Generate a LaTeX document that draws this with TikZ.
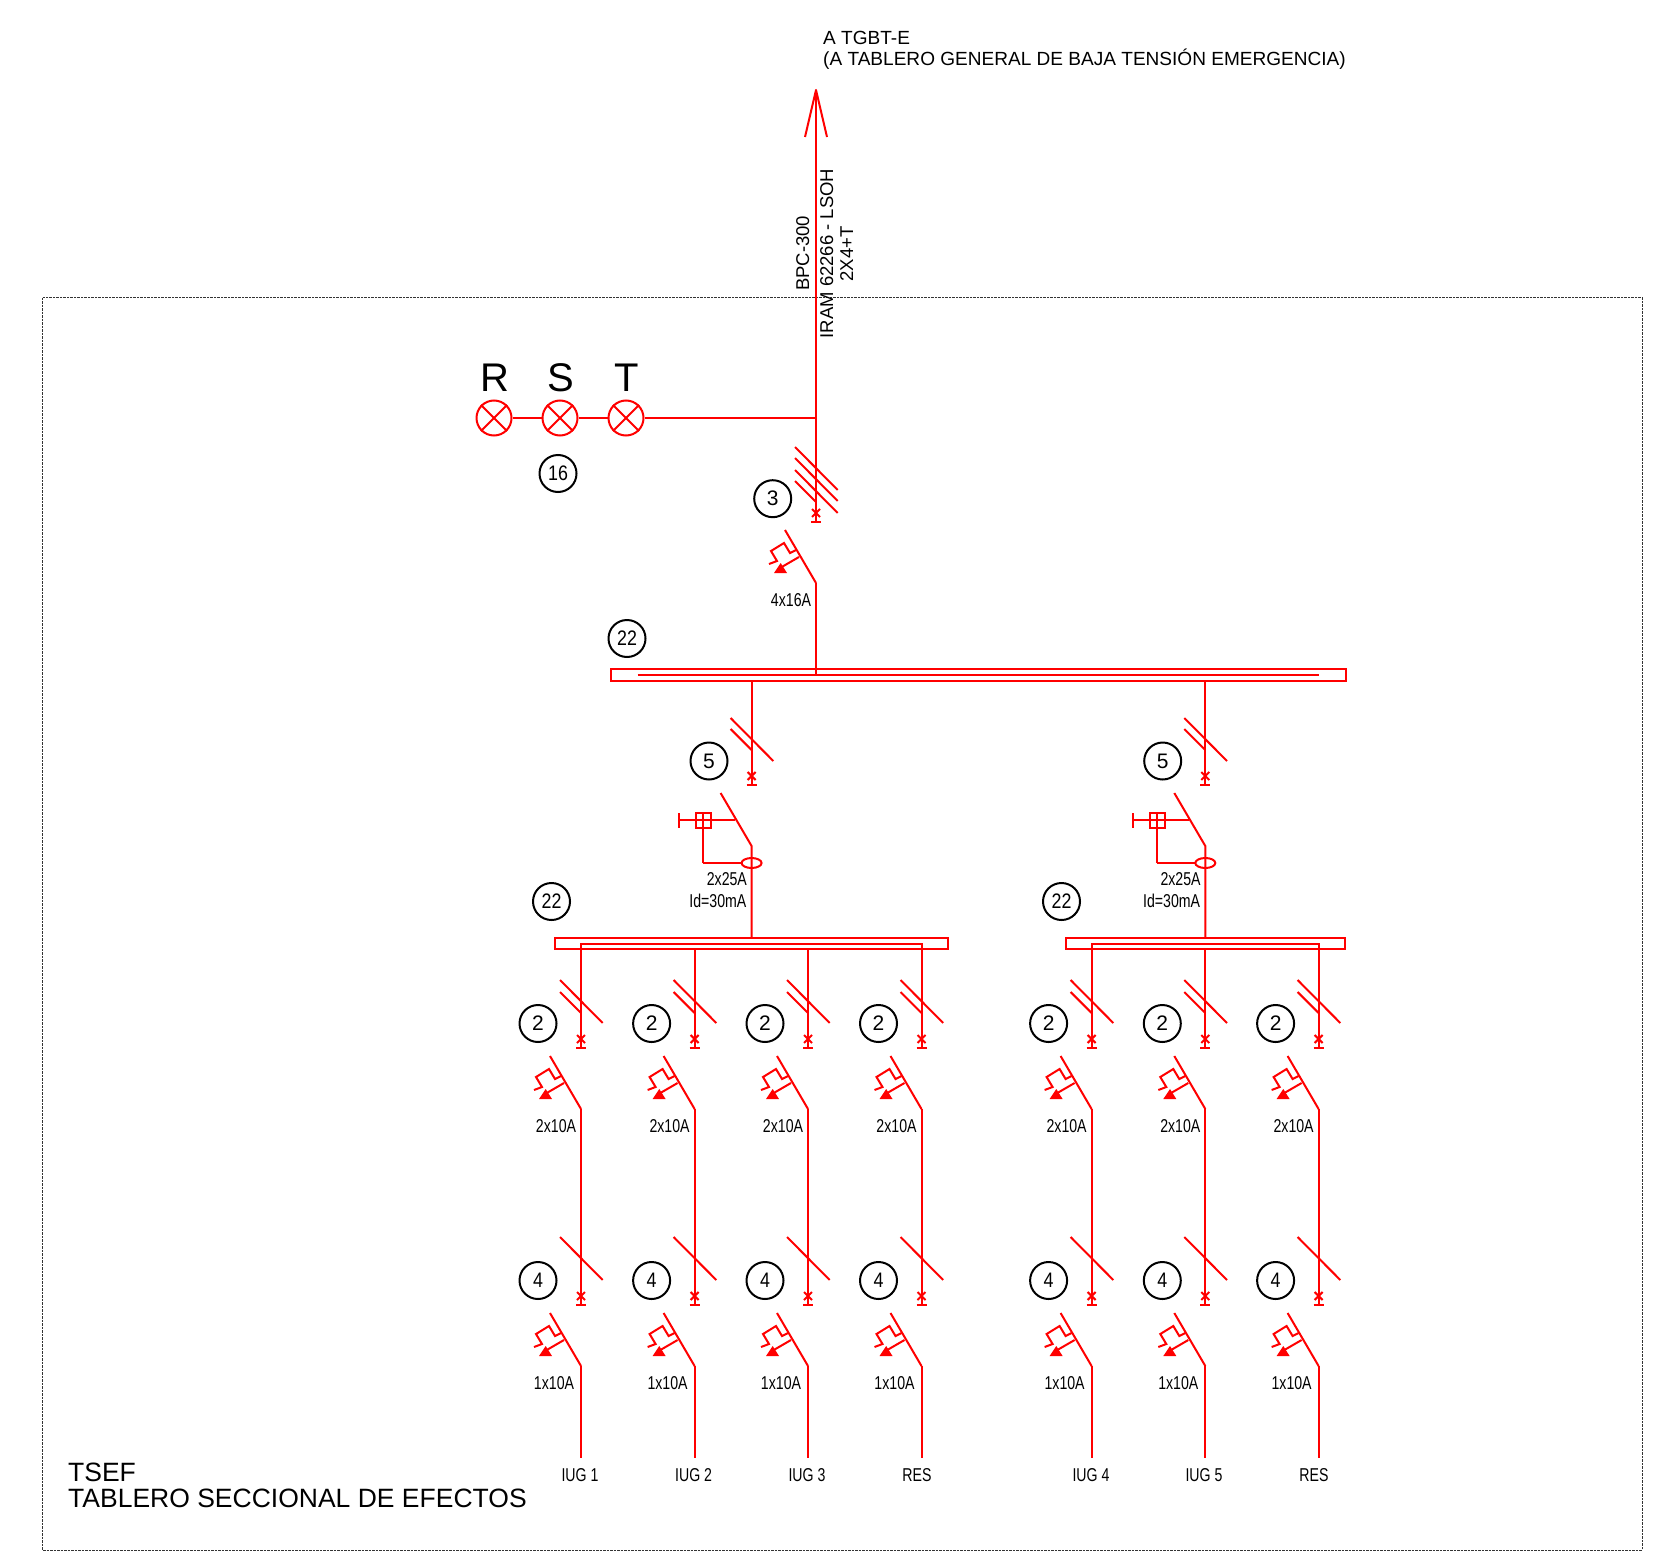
\documentclass[tikz,border=0pt]{standalone}
\usepackage{fontspec}
\setmainfont{Liberation Sans}
\newfontfamily\narrowfont[FakeStretch=0.76]{Liberation Sans}
\newfontfamily\markfont[FakeStretch=0.85]{Liberation Sans}
\usetikzlibrary{calc}
\tikzset{
	wire/.style={red,line width=2pt},
	thickwire/.style={red,line width=2.7pt},
	frameline/.style={black!80,line width=0.9pt,dash pattern=on 2.5pt off 1pt},
	refmark/.style={circle,draw=black,line width=2pt,minimum size=37pt,inner sep=0pt,font=\fontsize{21}{21}\selectfont},
	refnarrow/.style={refmark,font=\markfont\fontsize{21}{21}\selectfont},
	lamp/.style={circle,draw=red,line width=2pt,minimum size=35pt,inner sep=0pt},
	busbar/.style={draw=red,line width=2pt,inner sep=0pt,minimum height=11.5pt},
	rating/.style={inner sep=0pt,font=\narrowfont\fontsize{18.6}{18.6}\selectfont},
	plainlabel/.style={inner sep=0pt,font=\fontsize{19.05}{19}\selectfont},
	cablelabel/.style={inner sep=0pt,font=\fontsize{18.5}{18.5}\selectfont},
	phase/.style={inner sep=0pt,font=\fontsize{40}{40}\selectfont}
}
% thermal-magnetic breaker, #1 = lower end of the blade
\newcommand{\breakerTM}[1]{
	\begin{scope}[shift={(#1)}]
		\draw[wire](-31,-53)--(0,0);
		\draw[wire](-17,-26)--(-36,-15);
		\fill[red](-42,-10)--(-29,-10)--(-35.3,-20)--cycle;
		\draw[wire](-20,-33)--(-26,-30)--(-32,-40)--(-45,-32)--(-39,-22)--(-47,-19);
	\end{scope}
}
% fuse base, #1 = end of the incoming wire
\newcommand{\fuseX}[1]{
	\begin{scope}[shift={(#1)}]
		\draw[wire](-4,-13)--(4,-5);
		\draw[wire](4,-13)--(-4,-5);
		\draw[wire](-5,0)--(5,0);
	\end{scope}
}
% conductor ticks, #1 = wire at the height of the tick's start
\newcommand{\tickL}[1]{
	\draw[wire]($(#1)+(-21,0)$)--($(#1)+(21.7,43)$);
}
\newcommand{\tickS}[1]{
	\draw[wire]($(#1)+(-21,0)$)--($(#1)+(0,21)$);
}
\begin{document}
\begin{tikzpicture}[x=1pt,y=-1pt]
	\useasboundingbox(0,0) rectangle (1672,1554);
	\draw[frameline](42.7,297.5) rectangle (1642,1550);
	
	% incoming line
	\coordinate (tip) at (816,90);
	\coordinate (tap) at (816,418);
	\coordinate (mainEnd) at (816,522);
	\draw[thickwire](tip)--(tap);
	\draw[wire](tap)--(mainEnd);
	\draw[wire,line join=round](805,137)--(tip)--(827,137);
	\node[plainlabel,anchor=base west] (destA) at (823,45){A TGBT-E};
	\node[plainlabel,anchor=base west] (destB) at (823,66){(A TABLERO GENERAL DE BAJA TENSIÓN EMERGENCIA)};
	\node[cablelabel,rotate=90,anchor=west] (cableA) at (802.7,291){BPC-300};
	\node[cablelabel,rotate=90,anchor=west] (cableB) at (826.7,338.5){IRAM 62266 - LSOH};
	\node[cablelabel,rotate=90,anchor=west] (cableC) at (846.7,281.5){2X4+T};
	
	% pilot lamps
	\node[lamp] (lampR) at (494,418){};
	\node[lamp] (lampS) at (560,418){};
	\node[lamp] (lampT) at (626,418){};
	\foreach \n/\lab in {R/R,S/S,T/T}{
		\draw[wire](lamp\n.north west)--(lamp\n.south east);
		\draw[wire](lamp\n.north east)--(lamp\n.south west);
		\node[phase] (name\n) at ($(lamp\n)+(0.5,-40)$){\lab};
	}
	\draw[wire](lampR)--(lampS);
	\draw[wire](lampS)--(lampT);
	\draw[wire](lampT)--(tap);
	\node[refnarrow] (markLamp) at (558,473.5){16};
	
	% general breaker
	\node[refmark] (markMain) at (772.7,498.7){3};
	\tickL{816,447}\tickL{816,458}\tickL{816,470}
	\tickS{816,481}
	\fuseX{mainEnd}
	\coordinate (mainOut) at (816,583);
	\breakerTM{mainOut}
	\node[rating] (ratingMain) at (791,600.5){4x16A};
	
	% main bus
	\node[busbar,minimum width=734.5pt] (busMain) at (978.5,674.8){};
	\node[refnarrow] (markBusMain) at (627,638.5){22};
	\coordinate (innerL) at (637.7,675);
	\coordinate (innerR) at (1319,675);
	\draw[wire](innerL)--(innerR);
	\draw[wire](mainOut)--(816,675);
	
	% differential feeders
	\foreach \n/\x in {A/751.6,B/1205.3}{
		\coordinate (feedTop\n) at (\x,680.7);
		\coordinate (feedEnd\n) at (\x,785);
		\coordinate (feedOut\n) at (\x,846);
		\coordinate (feedBus\n) at (\x,937.7);
		\draw[wire](feedTop\n)--(feedEnd\n);
		\tickL{\x,718}
		\tickS{\x,729}
		\fuseX{feedEnd\n}
		\draw[wire](\x-31,793)--(feedOut\n)--(feedBus\n);
		\draw[wire](\x-16.5,820)--(\x-72.5,820);
		\draw[wire](\x-72.5,813)--(\x-72.5,828);
		\draw[wire](\x-48.3,863)--(\x-48.3,813);
		\draw[wire](\x-48.3,863)--(\x-10,863);
		\draw[wire](\x-55.7,813) rectangle (\x-40.3,828);
		\draw[red,line width=2pt](\x,863) ellipse [x radius=10,y radius=5];
		\node[refmark] (markFeed\n) at (\x-42.6,761){5};
		\node[rating,anchor=east] (ratingFeed\n) at (\x-4.5,879){2x25A};
		\node[rating,anchor=east] (diffFeed\n) at (\x-5,901){Id=30mA};
	}
	
	% distribution bars
	\node[busbar,minimum width=392.5pt] (busA) at (751.7,943.3){};
	\node[busbar,minimum width=279.5pt] (busB) at (1205.5,943.3){};
	\node[refnarrow] (markBusA) at (551.5,901.5){22};
	\node[refnarrow] (markBusB) at (1061.5,901.5){22};
	\draw[wire](581,949)--(581,943.7)--(921.5,943.7)--(921.5,949);
	\draw[wire](1091.6,949)--(1091.6,943.7)--(1318.6,943.7)--(1318.6,949);
	
	% outgoing circuits
	\foreach \n/\x/\lx/\txt in {1/581/580/IUG 1,2/694.6/693.6/IUG 2,3/808/807/IUG 3,4/921.5/917/RES,5/1091.6/1091/IUG 4,6/1205.3/1204/IUG 5,7/1318.6/1314/RES}{
		\coordinate (top\n) at (\x,949);
		\coordinate (endA\n) at (\x,1048);
		\coordinate (outA\n) at (\x,1109);
		\coordinate (endB\n) at (\x,1305);
		\coordinate (outB\n) at (\x,1366);
		\coordinate (last\n) at (\x,1458);
		\draw[wire](top\n)--(endA\n);
		\tickL{\x,980}
		\tickS{\x,992}
		\fuseX{endA\n}
		\breakerTM{outA\n}
		\draw[wire](outA\n)--(endB\n);
		\tickL{\x,1237}
		\fuseX{endB\n}
		\breakerTM{outB\n}
		\draw[wire](outB\n)--(last\n);
		\node[refmark] (markA\n) at (\x-43,1023.5){2};
		\node[refnarrow] (markB\n) at (\x-43,1280.5){4};
		\node[rating] (ratingA\n) at (\x-25,1125.7){2x10A};
		\node[rating] (ratingB\n) at (\x-27,1383){1x10A};
		\node[rating] (circuit\n) at (\lx,1475){\txt};
	}
	
	\node[inner sep=0pt,anchor=base west,font=\fontsize{26.5}{26.5}\selectfont] (titleA) at (68,1481){TSEF};
	\node[inner sep=0pt,anchor=base west,font=\fontsize{26.5}{26.5}\selectfont] (titleB) at (68,1507){TABLERO SECCIONAL DE EFECTOS};
\end{tikzpicture}
\end{document}
